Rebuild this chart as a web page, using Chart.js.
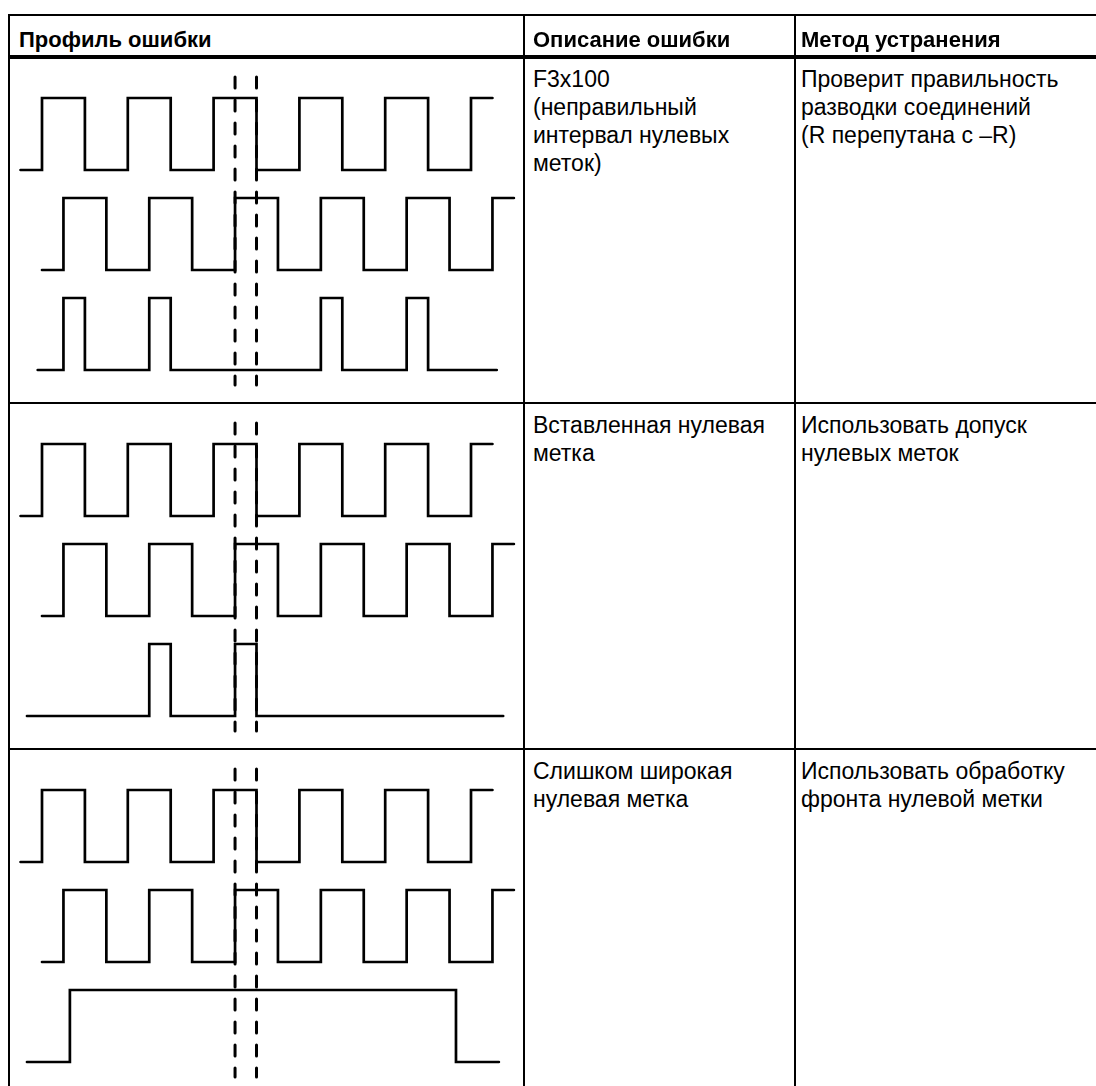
<!DOCTYPE html>
<html>
<head>
<meta charset="utf-8">
<script src="https://cdn.jsdelivr.net/npm/chart.js@4.4.1/dist/chart.umd.min.js"></script>
<style>
  html, body { margin: 0; padding: 0; background: #fff; }
  #page { position: relative; width: 1096px; height: 1086px; overflow: hidden;
          font-family: "Liberation Sans", Arial, sans-serif; color: #000; }
  .rule { position: absolute; background: #000; }
  .txt { position: absolute; font-size: 23px; line-height: 28px; white-space: nowrap; }
  .head { font-weight: bold; font-size: 22px; }
  canvas.wave { position: absolute; }
</style>
</head>
<body>
<div id="page"></div>
<script>
// table texts
const headers = ['Профиль ошибки', 'Описание ошибки', 'Метод устранения'];
const descriptions = [
  ['F3x100', '(неправильный', 'интервал нулевых', 'меток)'],
  ['Вставленная нулевая', 'метка'],
  ['Слишком широкая', 'нулевая метка']
];
const remedies = [
  ['Проверит правильность', 'разводки соединений', '(R перепутана с \u2013R)'],
  ['Использовать допуск', 'нулевых меток'],
  ['Использовать обработку', 'фронта нулевой метки']
];

// signal edges, time unit = half period of track A
const trackAEdges = [0, 1, 2, 3, 4, 5, 6, 7, 8, 9, 10];
const trackASpan = [-0.5, 10.5];
const trackBEdges = [0.5, 1.5, 2.5, 3.5, 4.5, 5.5, 6.5, 7.5, 8.5, 9.5, 10.5];
const trackBSpan = [0, 11];
const zeroMarkEdges = [
  [0.5, 1, 2.5, 3, 6.5, 7, 8.5, 9],
  [2.5, 3, 4.5, 5],
  [0.65, 9.65]
];
const zeroMarkSpans = [[-0.1, 10.6], [-0.35, 10.75], [-0.35, 10.65]];
const markerTimes = [4.5, 5];

// layout (px)
const ROW_Y = [57, 403, 749, 1086];
const COL_X = [524, 795];
const PAD = [10, 9, 6];
const LEFT = 9;
const X_ZERO = 42, UNIT = 42.9;
const LANE_TOP = [41, 141, 241], AMP = 72;
const MARK_FROM = 20, MARK_TO = 328;

const page = document.getElementById('page');

function rule(x, y, w, h) {
  const d = document.createElement('div');
  d.className = 'rule';
  Object.assign(d.style, { left: x + 'px', top: y + 'px', width: w + 'px', height: h + 'px' });
  page.appendChild(d);
}

function text(lines, x, y, bold) {
  const d = document.createElement('div');
  d.className = 'txt' + (bold ? ' head' : '');
  d.style.left = x + 'px';
  d.style.top = y + 'px';
  d.innerHTML = lines.join('<br>');
  page.appendChild(d);
}

function wave(edges, span, lane) {
  let lvl = 0;
  const toY = l => LANE_TOP[lane] + (1 - l) * AMP;
  const pts = [{ x: span[0], y: toY(lvl) }];
  edges.forEach(t => { lvl = 1 - lvl; pts.push({ x: t, y: toY(lvl) }); });
  pts.push({ x: span[1], y: toY(lvl) });
  return {
    data: pts, stepped: 'before', borderColor: '#000', borderWidth: 2.7,
    borderJoinStyle: 'miter', borderCapStyle: 'round', pointRadius: 0, fill: false
  };
}

function marker(t) {
  return {
    data: [{ x: t, y: MARK_FROM }, { x: t, y: MARK_TO }],
    borderColor: '#000', borderWidth: 3, borderDash: [11, 12],
    borderCapStyle: 'round', pointRadius: 0, fill: false
  };
}

function drawRow(r) {
  const top = ROW_Y[r], h = ROW_Y[r + 1] - ROW_Y[r];
  const left = LEFT + 2, w = COL_X[0] - left;
  const canvas = document.createElement('canvas');
  canvas.className = 'wave';
  canvas.width = w; canvas.height = h;
  Object.assign(canvas.style, { left: left + 'px', top: top + 'px', width: w + 'px', height: h + 'px' });
  page.appendChild(canvas);

  new Chart(canvas.getContext('2d'), {
    type: 'line',
    data: {
      datasets: [
        wave(trackAEdges, trackASpan, 0),
        wave(trackBEdges, trackBSpan, 1),
        wave(zeroMarkEdges[r], zeroMarkSpans[r], 2),
        ...markerTimes.map(marker)
      ]
    },
    options: {
      responsive: false, animation: false, devicePixelRatio: 1, events: [],
      layout: { padding: 0 },
      plugins: { legend: { display: false }, tooltip: { enabled: false } },
      scales: {
        x: { type: 'linear', display: false,
             min: (left - X_ZERO) / UNIT, max: (COL_X[0] - X_ZERO) / UNIT },
        y: { type: 'linear', display: false, min: 0, max: h, reverse: true }
      }
    }
  });
}

[0, 1, 2].forEach(drawRow);

// table rules
rule(LEFT - 1, 14, 1096, 2);
rule(LEFT - 1, 14, 2, 1086);
rule(LEFT - 1, 55, 1096, 4);
rule(LEFT - 1, ROW_Y[1] - 1, 1096, 2);
rule(LEFT - 1, ROW_Y[2] - 1, 1096, 2);
COL_X.forEach(x => rule(x - 1, 14, 2, 1086));

// texts
const colLeft = [LEFT + PAD[0], COL_X[0] + PAD[1], COL_X[1] + PAD[2]];
headers.forEach((h, i) => text([h], colLeft[i], 26, true));
[0, 1, 2].forEach(r => {
  const y = ROW_Y[r] + 8;
  text(descriptions[r], colLeft[1], y, false);
  text(remedies[r], colLeft[2], y, false);
});
</script>
</body>
</html>
